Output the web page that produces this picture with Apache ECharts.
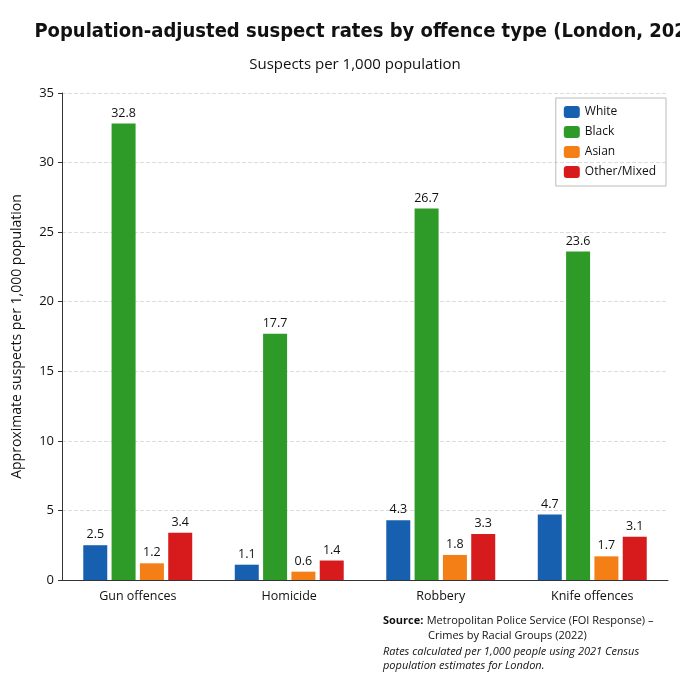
<!DOCTYPE html>
<html>
<head>
<meta charset="utf-8">
<script src="https://cdn.jsdelivr.net/npm/echarts@6/dist/echarts.min.js"></script>
<style>
html,body{margin:0;padding:0;background:#fff;}
#main{width:680px;height:680px;}
</style>
</head>
<body>
<div id="main"></div>
<script>
var categories = ['Gun offences', 'Homicide', 'Robbery', 'Knife offences'];
var seriesNames = ['White', 'Black', 'Asian', 'Other/Mixed'];
var white = [2.5, 1.1, 4.3, 4.7];
var black = [32.8, 17.7, 26.7, 23.6];
var asian = [1.2, 0.6, 1.8, 1.7];
var other = [3.4, 1.4, 3.3, 3.1];
var colors = ['#1760b0', '#2e9a28', '#f57f17', '#d71a1c'];

var myChart = echarts.init(document.getElementById('main'));
var font = 'Open Sans';
var allData = [white, black, asian, other];
var series = [];
for (var i = 0; i < seriesNames.length; i++) {
	series.push({
		name: seriesNames[i],
		type: 'bar',
		data: allData[i],
		barWidth: 24,
		barGap: '18%',
		itemStyle: {color: colors[i]},
		label: {show: true, position: 'top', color: '#111', fontSize: 12.5, fontFamily: font, distance: 4}
	});
}
var option = {
	title: [
		{
			text: 'Population-adjusted suspect rates by offence type (London, 2022)',
			left: 366, top: 17, textAlign: 'center',
			textStyle: {fontSize: 20, fontWeight: 'bold', fontFamily: 'DejaVu Sans Condensed', color: '#111'}
		},
		{
			text: 'Suspects per 1,000 population',
			left: 350, top: 52, textAlign: 'center',
			textStyle: {fontSize: 15, fontWeight: 'normal', fontFamily: font, color: '#111'}
		}
	],
	legend: {
		data: seriesNames,
		orient: 'vertical',
		right: 14, top: 98,
		itemWidth: 16, itemHeight: 12, itemGap: 8,
		padding: [8, 10, 8, 8],
		borderColor: '#bbb', borderWidth: 1,
		textStyle: {fontSize: 12, fontFamily: font, color: '#111'}
	},
	grid: {left: 62, right: 12, top: 93, bottom: 100},
	xAxis: {
		type: 'category',
		data: categories,
		axisTick: {show: false},
		axisLine: {lineStyle: {color: '#333'}},
		axisLabel: {fontSize: 12.5, fontFamily: font, color: '#111', margin: 10}
	},
	yAxis: {
		type: 'value',
		min: 0, max: 35, interval: 5,
		name: 'Approximate suspects per 1,000 population',
		nameLocation: 'middle', nameGap: 38,
		nameTextStyle: {fontSize: 14, fontFamily: font, color: '#111'},
		axisLine: {show: true, lineStyle: {color: '#333'}},
		axisTick: {show: true, length: 4},
		axisLabel: {fontSize: 13, fontFamily: font, color: '#111'},
		splitLine: {lineStyle: {color: '#ddd', type: 'dashed'}}
	},
	graphic: [
		{type: 'text', left: 383, top: 615, style: {rich: {b: {fontWeight: 'bold', fontSize: 11, fontFamily: font}, n: {fontSize: 11, fontFamily: font}}, text: '{b|Source:} {n|Metropolitan Police Service (FOI Response) –}', fill: '#111'}},
		{type: 'text', left: 428, top: 630, style: {text: 'Crimes by Racial Groups (2022)', fontSize: 11, fontFamily: font, fill: '#111'}},
		{type: 'text', left: 383, top: 645, style: {text: 'Rates calculated per 1,000 people using 2021 Census\npopulation estimates for London.', fontSize: 11, fontStyle: 'italic', fontFamily: font, fill: '#111', lineHeight: 14}}
	],
	series: series
};
myChart.setOption(option);
</script>
</body>
</html>
